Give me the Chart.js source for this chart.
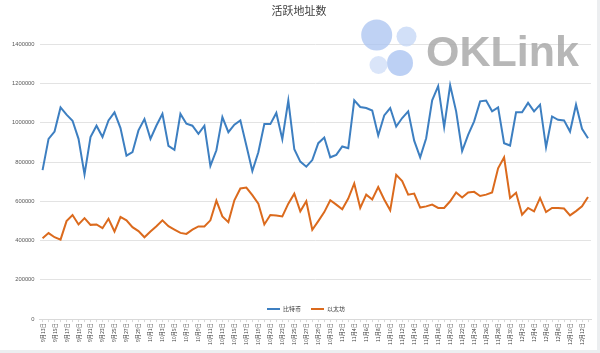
<!DOCTYPE html>
<html>
<head>
<meta charset="utf-8">
<script src="https://cdn.jsdelivr.net/npm/chart.js@4/dist/chart.umd.min.js"></script>
<style>
    html, body { margin: 0; padding: 0; background: #eceef0; }
    #wrap { position: relative; width: 597px; height: 350px; background: #ffffff; }
    #legend {
        position: absolute; left: 267px; top: 304px;
        font: 6px "Noto Sans CJK SC", sans-serif; color: #404040;
        display: flex; gap: 10px; align-items: center;
    }
    #legend span.sw { display: inline-block; width: 13px; height: 2px; margin-right: 3px; vertical-align: middle; }
</style>
</head>
<body>
<div id="wrap">
    <canvas id="addrChart" width="597" height="350"></canvas>
    <div id="legend"></div>
</div>
<script>
/* ==========================================
   活跃地址数 - 比特币 / 以太坊
   ========================================== */

const dates = [
    "9月13日","9月14日","9月15日","9月16日","9月17日","9月18日","9月19日","9月20日","9月21日","9月22日",
    "9月23日","9月24日","9月25日","9月26日","9月27日","9月28日","9月29日","9月30日",
    "10月1日","10月2日","10月3日","10月4日","10月5日","10月6日","10月7日","10月8日","10月9日","10月10日",
    "10月11日","10月12日","10月13日","10月14日","10月15日","10月16日","10月17日","10月18日","10月19日","10月20日",
    "10月21日","10月22日","10月23日","10月24日","10月25日","10月26日","10月27日","10月28日","10月29日","10月30日","10月31日",
    "11月1日","11月2日","11月3日","11月4日","11月5日","11月6日","11月7日","11月8日","11月9日","11月10日",
    "11月11日","11月12日","11月13日","11月14日","11月15日","11月16日","11月17日","11月18日","11月19日","11月20日",
    "11月21日","11月22日","11月23日","11月24日","11月25日","11月26日","11月27日","11月28日","11月29日","11月30日",
    "12月1日","12月2日","12月3日","12月4日","12月5日","12月6日","12月7日","12月8日","12月9日","12月10日",
    "12月11日","12月12日","12月13日"
];

const btcAddresses = [
    759000, 918000, 955000, 1078000, 1041000, 1010000, 918000, 737000, 927000, 985000,
    927000, 1012000, 1053000, 973000, 832000, 850000, 961000, 1019000, 918000, 986000,
    1046000, 882000, 862000, 1045000, 995000, 985000, 944000, 985000, 780000, 860000,
    1029000, 952000, 990000, 1012000, 884000, 754000, 850000, 993000, 993000, 1050000,
    916000, 1113000, 865000, 802000, 776000, 810000, 896000, 925000, 824000, 836000,
    879000, 870000, 1114000, 1080000, 1075000, 1062000, 935000, 1037000, 1075000, 981000,
    1024000, 1058000, 909000, 824000, 921000, 1114000, 1186000, 978000, 1191000, 1058000,
    856000, 938000, 1007000, 1109000, 1113000, 1058000, 1078000, 896000, 884000, 1053000,
    1053000, 1101000, 1058000, 1092000, 875000, 1032000, 1015000, 1012000, 955000, 1092000,
    969000, 921000
];

const ethAddresses = [
    412000, 438000, 417000, 405000, 499000, 530000, 482000, 514000, 480000, 482000,
    463000, 511000, 446000, 520000, 503000, 468000, 448000, 417000, 446000, 473000,
    503000, 473000, 456000, 439000, 434000, 456000, 472000, 472000, 503000, 603000,
    523000, 494000, 605000, 665000, 670000, 631000, 588000, 482000, 530000, 528000,
    523000, 588000, 639000, 549000, 600000, 455000, 499000, 545000, 605000, 583000,
    559000, 614000, 691000, 566000, 634000, 609000, 673000, 609000, 554000, 735000,
    703000, 634000, 639000, 568000, 574000, 583000, 566000, 566000, 600000, 645000,
    619000, 645000, 648000, 627000, 634000, 645000, 768000, 824000, 617000, 643000,
    532000, 566000, 549000, 617000, 545000, 566000, 566000, 563000, 528000, 550000,
    574000, 622000
];

const seriesNames = ["比特币", "以太坊"];
const seriesColors = ["#3d7fc1", "#db6a1d"];
const yTicks = [0, 200000, 400000, 600000, 800000, 1000000, 1200000, 1400000];

// logo in the top right corner (not data)
const watermark = {
    id: "watermark",
    afterDraw(chart) {
        const ctx = chart.ctx;
        ctx.save();
        const dots = [
            [376.7, 35, 15.5, "rgba(170,195,240,0.75)"],
            [406.5, 36.5, 10, "rgba(195,213,245,0.75)"],
            [400, 63, 13, "rgba(165,192,240,0.75)"],
            [378.5, 65, 9, "rgba(205,220,247,0.75)"]
        ];
        dots.forEach(d => {
            ctx.beginPath();
            ctx.arc(d[0], d[1], d[2], 0, Math.PI * 2);
            ctx.fillStyle = d[3];
            ctx.fill();
        });
        ctx.font = "bold 43px 'Liberation Sans', sans-serif";
        ctx.fillStyle = "rgba(165,165,165,0.8)";
        ctx.textBaseline = "alphabetic";
        ctx.fillText("OKLink", 426, 66);
        ctx.restore();
    }
};

const legendBox = document.getElementById("legend");
seriesNames.forEach((name, i) => {
    const item = document.createElement("span");
    item.innerHTML = `<span class="sw" style="background:${seriesColors[i]}"></span>${name}`;
    legendBox.appendChild(item);
});

new Chart(document.getElementById("addrChart"), {
    type: "line",
    data: {
        labels: dates,
        datasets: [
            {
                label: seriesNames[0],
                data: btcAddresses,
                borderColor: seriesColors[0],
                borderWidth: 2,
                pointRadius: 0,
                tension: 0
            },
            {
                label: seriesNames[1],
                data: ethAddresses,
                borderColor: seriesColors[1],
                borderWidth: 2,
                pointRadius: 0,
                tension: 0
            }
        ]
    },
    options: {
        responsive: false,
        animation: false,
        layout: {
            padding: { left: 7, right: 6, top: 0, bottom: 4 }
        },
        plugins: {
            legend: { display: false },
            tooltip: { enabled: false },
            title: {
                display: true,
                text: "活跃地址数",
                color: "#404040",
                font: { family: "'Noto Sans CJK SC'", size: 11, weight: "normal" },
                padding: { top: 4, bottom: 27 }
            }
        },
        scales: {
            x: {
                offset: true,
                ticks: {
                    autoSkip: false,
                    maxRotation: 90,
                    minRotation: 90,
                    padding: 1,
                    color: "#404040",
                    font: { family: "'Noto Sans CJK SC'", size: 5.2 },
                    callback: (value, index) => index % 2 === 0 ? dates[index] : ""
                },
                grid: {
                    drawOnChartArea: false,
                    tickLength: 3,
                    color: "#d9d9d9"
                },
                border: { color: "#d9d9d9" }
            },
            y: {
                min: 0,
                max: 1400000,
                afterBuildTicks: axis => {
                    axis.ticks = yTicks.map(v => ({ value: v }));
                },
                ticks: {
                    padding: 5,
                    color: "#595959",
                    font: { family: "'Liberation Sans'", size: 5.8 },
                    callback: value => String(value)
                },
                grid: {
                    color: "#e3e3e3",
                    drawTicks: false
                },
                border: { display: false }
            }
        }
    },
    plugins: [watermark]
});
</script>
</body>
</html>
